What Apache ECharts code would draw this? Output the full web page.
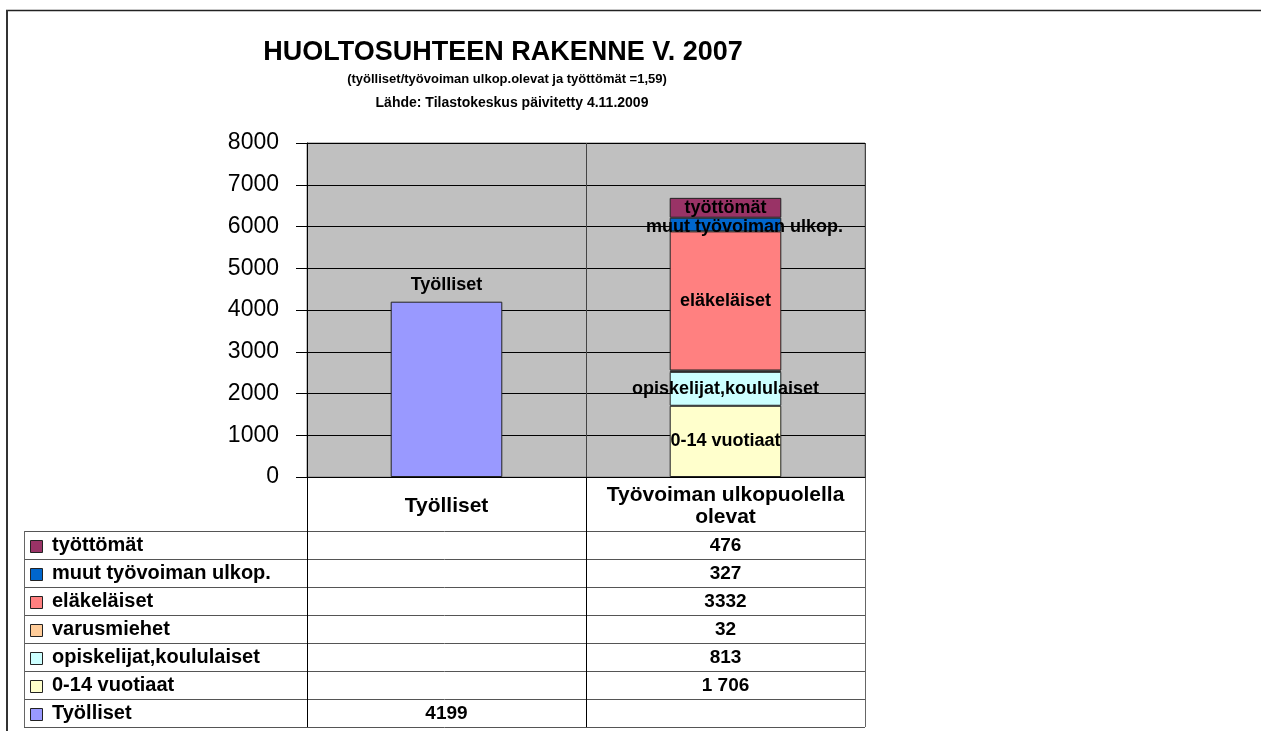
<!DOCTYPE html>
<html>
<head>
<meta charset="utf-8">
<script src="https://cdn.jsdelivr.net/npm/echarts@6/dist/echarts.min.js"></script>
<style>
html, body { margin: 0; padding: 0; background: #fff; }
#main { width: 1261px; height: 731px; }
</style>
</head>
<body>
<div id="main"></div>
<script>
// data
var categories = ['Työlliset', 'Työvoiman ulkopuolella\nolevat'];
var seriesNames = ['Työlliset', '0-14 vuotiaat', 'opiskelijat,koululaiset', 'varusmiehet', 'eläkeläiset', 'muut työvoiman ulkop.', 'työttömät'];
var seriesColors = ['#9999FF', '#FFFFCC', '#CCFFFF', '#FFCC99', '#FF8080', '#0066CC', '#993366'];
var tyollisetValues = [4199, null];
var vuotiaatValues = [null, 1706];
var opiskelijatValues = [null, 813];
var varusmiehetValues = [null, 32];
var elakelaisetValues = [null, 3332];
var muutValues = [null, 327];
var tyottomatValues = [null, 476];
var spacedThousands = ['0-14 vuotiaat'];
var yMin = 0, yMax = 8000, yStep = 1000;

var allValues = [tyollisetValues, vuotiaatValues, opiskelijatValues, varusmiehetValues, elakelaisetValues, muutValues, tyottomatValues];

var FONT = "'Liberation Sans', Arial, sans-serif";
var GRID_L = 307, GRID_R = 865, GRID_T = 143, GRID_B = 477;
var TABLE_L = 24, TABLE_T = 531, ROW_H = 28;
var colW = (GRID_R - GRID_L) / categories.length;

function fmt(name, v) {
	var s = String(v);
	if (spacedThousands.indexOf(name) >= 0) s = s.replace(/\B(?=(\d{3})+(?!\d))/g, ' ');
	return s;
}

/**
 * 数据表 (data table under the plot)
 * **/
var graphics = [];
var nRows = seriesNames.length;
var tableB = TABLE_T + nRows * ROW_H;
var lineStyle = { stroke: '#555', lineWidth: 1 };
for (var i = 0; i <= nRows; i++) {
	var y = TABLE_T + i * ROW_H + 0.5;
	graphics.push({ type: 'line', shape: { x1: TABLE_L, y1: y, x2: GRID_R, y2: y }, style: lineStyle });
}
graphics.push({ type: 'line', shape: { x1: TABLE_L + 0.5, y1: TABLE_T, x2: TABLE_L + 0.5, y2: tableB }, style: { stroke: '#666', lineWidth: 1 } });
for (var c = 0; c <= categories.length; c++) {
	var x = Math.round(GRID_L + c * colW) + 0.5;
	graphics.push({ type: 'line', shape: { x1: x, y1: GRID_B, x2: x, y2: tableB }, style: { stroke: c === categories.length ? '#666' : '#000', lineWidth: 1 } });
}
for (var r = 0; r < nRows; r++) {
	var si = nRows - 1 - r;
	var cy = TABLE_T + r * ROW_H + ROW_H / 2 + 0.5;
	graphics.push({ type: 'rect', shape: { x: 30.5, y: Math.round(cy - 6) + 0.5, width: 12, height: 12 }, style: { fill: seriesColors[si], stroke: '#222', lineWidth: 1 } });
	graphics.push({ type: 'text', x: 52, y: cy, style: { text: seriesNames[si], font: 'bold 20px ' + FONT, fill: '#000', textVerticalAlign: 'middle', verticalAlign: 'middle' } });
	for (var k = 0; k < categories.length; k++) {
		var v = allValues[si][k];
		if (v == null) continue;
		graphics.push({ type: 'text', x: GRID_L + (k + 0.5) * colW, y: cy, style: { text: fmt(seriesNames[si], v), font: 'bold 19px ' + FONT, fill: '#000', align: 'center', textAlign: 'center', verticalAlign: 'middle', textVerticalAlign: 'middle' } });
	}
}
// outer frame
graphics.push({ type: 'line', shape: { x1: 6, y1: 10.5, x2: 1261, y2: 10.5 }, style: { stroke: '#222', lineWidth: 1.5 } });
graphics.push({ type: 'line', shape: { x1: 7, y1: 10, x2: 7, y2: 731 }, style: { stroke: '#333', lineWidth: 2 } });

var series = seriesNames.map(function(name, i) {
	return {
		name: name,
		type: 'bar',
		stack: 'total',
		barWidth: '40%',
		data: allValues[i],
		itemStyle: { color: seriesColors[i], borderColor: '#222', borderWidth: 1 },
		label: {
			show: name !== 'varusmiehet',
			position: i === 0 ? 'top' : 'inside',
			distance: 8,
			offset: name === 'muut työvoiman ulkop.' ? [19, 2] : [0, 0],
			formatter: '{a}',
			color: '#000',
			fontFamily: FONT,
			fontWeight: 'bold',
			fontSize: 18
		}
	};
});

var myChart = echarts.init(document.getElementById('main'));
var option = {
	animation: false,
	title: [{
		text: 'HUOLTOSUHTEEN RAKENNE V. 2007',
		left: 498,
		textAlign: 'center',
		top: 34,
		textStyle: { fontFamily: FONT, fontWeight: 'bold', fontSize: 27, color: '#000' }
	}, {
		text: '(työlliset/työvoiman ulkop.olevat ja työttömät =1,59)',
		left: 502,
		textAlign: 'center',
		top: 68,
		textStyle: { fontFamily: FONT, fontWeight: 'bold', fontSize: 13, color: '#000' }
	}, {
		text: 'Lähde: Tilastokeskus päivitetty 4.11.2009',
		left: 507,
		textAlign: 'center',
		top: 91,
		textStyle: { fontFamily: FONT, fontWeight: 'bold', fontSize: 14, color: '#000' }
	}],
	grid: {
		left: GRID_L,
		top: GRID_T,
		width: GRID_R - GRID_L,
		height: GRID_B - GRID_T,
		show: true,
		backgroundColor: '#C0C0C0',
		borderColor: '#808080',
		borderWidth: 1
	},
	xAxis: {
		type: 'category',
		data: categories,
		axisLine: { lineStyle: { color: '#000', width: 1 } },
		axisTick: { show: false },
		splitLine: { show: true, lineStyle: { color: '#444', width: 1 } },
		axisLabel: {
			interval: 0,
			color: '#000',
			fontFamily: FONT,
			fontWeight: 'bold',
			fontSize: 21,
			lineHeight: 22,
			verticalAlign: 'middle',
			margin: 29
		}
	},
	yAxis: {
		type: 'value',
		min: yMin,
		max: yMax,
		interval: yStep,
		axisLine: { show: true, lineStyle: { color: '#000', width: 1 } },
		axisTick: { show: true, length: 11, lineStyle: { color: '#000' } },
		splitLine: { lineStyle: { color: '#000', width: 1 } },
		axisLabel: {
			color: '#000',
			fontFamily: FONT,
			fontSize: 23,
			margin: 28,
			formatter: function(v) { return String(v); }
		}
	},
	series: series,
	graphic: graphics
};
myChart.setOption(option);
</script>
</body>
</html>
